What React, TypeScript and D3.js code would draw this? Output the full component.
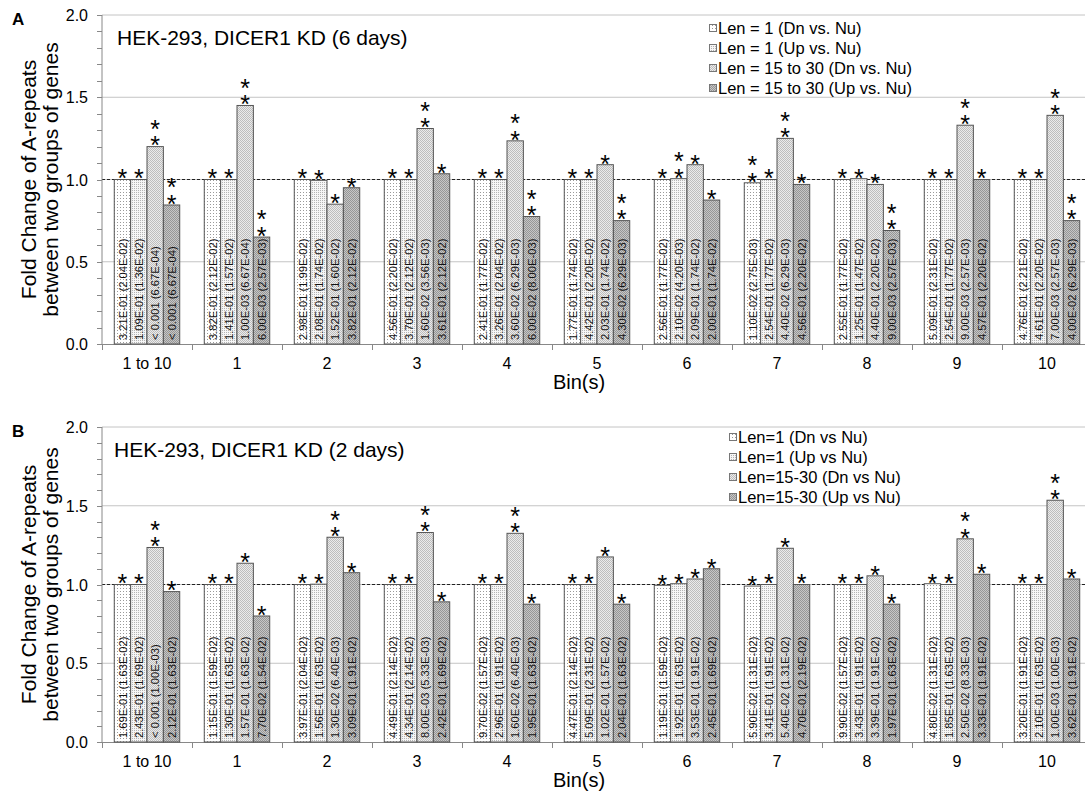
import * as d3 from 'd3';

const W = 1085;
const H = 797;
const FONT = '"Liberation Sans", Arial, sans-serif';

const bins = ['1 to 10', '1', '2', '3', '4', '5', '6', '7', '8', '9', '10'];

// ---- panel A: 6 days ----
const titleA = 'HEK-293, DICER1 KD (6 days)';
const legendA = ['Len = 1 (Dn vs. Nu)', 'Len = 1 (Up vs. Nu)', 'Len = 15 to 30 (Dn vs. Nu)', 'Len = 15 to 30 (Up vs. Nu)'];
const foldA_len1Dn = [1.0, 1.0, 1.0, 1.0, 1.0, 1.0, 1.0, 0.98, 1.0, 1.0, 1.0];
const foldA_len1Up = [1.0, 1.0, 0.995, 1.0, 1.0, 1.0, 1.005, 1.0, 1.005, 1.0, 1.0];
const foldA_len15Dn = [1.2, 1.45, 0.85, 1.31, 1.235, 1.09, 1.09, 1.25, 0.97, 1.33, 1.39];
const foldA_len15Up = [0.845, 0.65, 0.95, 1.035, 0.775, 0.75, 0.875, 0.97, 0.69, 1.0, 0.75];
const starsA_len1Dn = [1, 1, 1, 1, 1, 1, 1, 2, 1, 1, 1];
const starsA_len1Up = [1, 1, 1, 1, 1, 1, 2, 1, 1, 1, 1];
const starsA_len15Dn = [2, 2, 1, 2, 2, 1, 1, 2, 1, 2, 2];
const starsA_len15Up = [2, 2, 1, 1, 2, 2, 1, 1, 2, 1, 2];
const pA_len1Dn = ['3.21E-01 (2.04E-02)', '3.82E-01 (2.12E-02)', '2.98E-01 (1.99E-02)', '4.56E-01 (2.20E-02)', '2.41E-01 (1.77E-02)', '1.77E-01 (1.74E-02)', '2.56E-01 (1.77E-02)', '1.10E-02 (2.75E-03)', '2.55E-01 (1.77E-02)', '5.09E-01 (2.31E-02)', '4.76E-01 (2.21E-02)'];
const pA_len1Up = ['1.09E-01 (1.36E-02)', '1.41E-01 (1.57E-02)', '2.08E-01 (1.74E-02)', '3.70E-01 (2.12E-02)', '3.26E-01 (2.04E-02)', '4.42E-01 (2.20E-02)', '2.10E-02 (4.20E-03)', '2.54E-01 (1.77E-02)', '1.25E-01 (1.47E-02)', '2.54E-01 (1.77E-02)', '4.61E-01 (2.20E-02)'];
const pA_len15Dn = ['< 0.001 (6.67E-04)', '1.00E-03 (6.67E-04)', '1.52E-01 (1.60E-02)', '1.60E-02 (3.56E-03)', '3.60E-02 (6.29E-03)', '2.03E-01 (1.74E-02)', '2.09E-01 (1.74E-02)', '4.40E-02 (6.29E-03)', '4.40E-01 (2.20E-02)', '9.00E-03 (2.57E-03)', '7.00E-03 (2.57E-03)'];
const pA_len15Up = ['< 0.001 (6.67E-04)', '6.00E-03 (2.57E-03)', '3.82E-01 (2.12E-02)', '3.61E-01 (2.12E-02)', '6.00E-02 (8.00E-03)', '4.30E-02 (6.29E-03)', '2.00E-01 (1.74E-02)', '4.56E-01 (2.20E-02)', '9.00E-03 (2.57E-03)', '4.57E-01 (2.20E-02)', '4.00E-02 (6.29E-03)'];

// ---- panel B: 2 days ----
const titleB = 'HEK-293, DICER1 KD (2 days)';
const legendB = ['Len=1 (Dn vs Nu)', 'Len=1 (Up vs Nu)', 'Len=15-30 (Dn vs Nu)', 'Len=15-30 (Up vs Nu)'];
const foldB_len1Dn = [1.0, 1.0, 1.0, 1.0, 1.0, 1.0, 0.995, 0.99, 1.0, 1.005, 1.0];
const foldB_len1Up = [1.0, 1.0, 1.002, 1.0, 1.0, 1.0, 1.005, 1.0, 1.0, 1.0, 1.0];
const foldB_len15Dn = [1.235, 1.135, 1.3, 1.33, 1.325, 1.175, 1.035, 1.23, 1.055, 1.29, 1.535];
const foldB_len15Up = [0.955, 0.8, 1.075, 0.89, 0.875, 0.875, 1.1, 1.0, 0.875, 1.065, 1.035];
const starsB_len1Dn = [1, 1, 1, 1, 1, 1, 1, 1, 1, 1, 1];
const starsB_len1Up = [1, 1, 1, 1, 1, 1, 1, 1, 1, 1, 1];
const starsB_len15Dn = [2, 1, 2, 2, 2, 1, 1, 1, 1, 2, 2];
const starsB_len15Up = [1, 1, 1, 1, 1, 1, 1, 1, 1, 1, 1];
const pB_len1Dn = ['1.69E-01 (1.63E-02)', '1.15E-01 (1.59E-02)', '3.97E-01 (2.04E-02)', '4.49E-01 (2.14E-02)', '9.70E-02 (1.57E-02)', '4.47E-01 (2.14E-02)', '1.19E-01 (1.59E-02)', '5.90E-02 (1.31E-02)', '9.90E-02 (1.57E-02)', '4.80E-02 (1.31E-02)', '3.20E-01 (1.91E-02)'];
const pB_len1Up = ['2.43E-01 (1.69E-02)', '1.30E-01 (1.63E-02)', '1.56E-01 (1.63E-02)', '4.34E-01 (2.14E-02)', '2.96E-01 (1.91E-02)', '5.09E-01 (2.31E-02)', '1.92E-01 (1.63E-02)', '3.41E-01 (1.91E-02)', '3.43E-01 (1.91E-02)', '1.85E-01 (1.63E-02)', '2.10E-01 (1.63E-02)'];
const pB_len15Dn = ['< 0.001 (1.00E-03)', '1.57E-01 (1.63E-02)', '1.30E-02 (6.40E-03)', '8.00E-03 (5.33E-03)', '1.60E-02 (6.40E-03)', '1.02E-01 (1.57E-02)', '3.53E-01 (1.91E-02)', '5.40E-02 (1.31E-02)', '3.39E-01 (1.91E-02)', '2.50E-02 (8.33E-03)', '1.00E-03 (1.00E-03)'];
const pB_len15Up = ['2.12E-01 (1.63E-02)', '7.70E-02 (1.54E-02)', '3.09E-01 (1.91E-02)', '2.42E-01 (1.69E-02)', '1.95E-01 (1.63E-02)', '2.04E-01 (1.63E-02)', '2.45E-01 (1.69E-02)', '4.70E-01 (2.19E-02)', '1.97E-01 (1.63E-02)', '3.33E-01 (1.91E-02)', '3.62E-01 (1.91E-02)'];

const yTicks = [0, 0.5, 1, 1.5, 2];
const patternIds = ['pat1', 'pat2', 'pat3', 'pat4'];

// star glyph metrics (Liberation Sans): advance 0.389em, ink centre ~0.573em above baseline
const STAR_FS = 25;
const STAR_ADV = 0.389 * STAR_FS;
const STAR_GAP = 16.5;

interface PanelProps {
  letter: string;
  title: string;
  legend: string[];
  folds: number[][];
  stars: number[][];
  labels: string[][];
  top: number;
  bottom: number;
  titleX: number;
  legendX: number;
  legendY: number;
}

const Panel = ({ letter, title, legend, folds, stars, labels, top, bottom, titleX, legendX, legendY }: PanelProps) => {
  const x0 = 102;
  const x = d3.scaleBand().domain(bins).range([x0, x0 + 90 * bins.length]);
  const xi = d3
    .scaleBand<number>()
    .domain([0, 1, 2, 3])
    .range([0, x.bandwidth()])
    .paddingInner(0)
    .paddingOuter(0.75);
  const y = d3.scaleLinear().domain([0, 2]).range([bottom, top]);
  const minor = d3.range(0, 21).map((d) => d / 10);
  const midY = (top + bottom) / 2;

  return (
    <g>
      <text x={12} y={top + 10} fontSize={17} fontWeight="bold">
        {letter}
      </text>

      {/* y axis title */}
      <g transform={`translate(36,${midY}) rotate(-90)`} fontSize={21} textAnchor="middle">
        <text x={0} y={0}>Fold Change of A-repeats</text>
        <text x={0} y={22}>between two groups of genes</text>
      </g>

      {/* gridlines */}
      {yTicks.slice(1).map((t) => (
        <line key={t} x1={x0} x2={W} y1={y(t)} y2={y(t)} stroke="#c4c4c4" strokeWidth={1} />
      ))}
      <line x1={x0} x2={W} y1={y(1)} y2={y(1)} stroke="#222" strokeWidth={1} strokeDasharray="3,2" />

      {/* y axis */}
      <line x1={x0} x2={x0} y1={top} y2={bottom} stroke="#888" />
      {minor.map((t) => (
        <line key={t} x1={x0 - 5} x2={x0} y1={Math.round(y(t)) + 0.5} y2={Math.round(y(t)) + 0.5} stroke="#888" />
      ))}
      {yTicks.map((t) => (
        <text key={t} x={88} y={y(t) + 6} fontSize={16} textAnchor="end">
          {d3.format('.1f')(t)}
        </text>
      ))}

      {/* x axis */}
      <line x1={x0} x2={W} y1={bottom + 0.5} y2={bottom + 0.5} stroke="#888" />
      {d3.range(bins.length + 1).map((k) => (
        <line key={k} x1={x0 + 90 * k + 0.5} x2={x0 + 90 * k + 0.5} y1={bottom} y2={bottom + 6} stroke="#888" />
      ))}
      {bins.map((b) => (
        <text key={b} x={x(b)! + x.bandwidth() / 2} y={bottom + 25} fontSize={16} textAnchor="middle">
          {b}
        </text>
      ))}
      <text x={579} y={bottom + 45} fontSize={20} textAnchor="middle">
        Bin(s)
      </text>

      {/* bars */}
      {bins.map((b, i) => (
        <g key={b} transform={`translate(${x(b)},0)`}>
          {folds.map((series, s) => {
            const bx = xi(s)!;
            const bw = xi.bandwidth();
            const v = series[i];
            const yTop = y(v);
            const cx = bx + bw / 2;
            const n = stars[s][i];
            // stars run upward (rotated line), each glyph turned back upright
            const starCy = yTop - 6.5;
            return (
              <g key={s}>
                <rect
                  x={bx}
                  y={yTop}
                  width={bw}
                  height={bottom - yTop}
                  fill={`url(#${patternIds[s]})`}
                  stroke="#555"
                  strokeWidth={1}
                />
                <text
                  transform={`translate(${cx},${bottom - 4}) rotate(-90)`}
                  dy="0.37em"
                  fontSize={11.2}
                  fill="#111"
                >
                  {labels[s][i]}
                </text>
                <text
                  transform={`translate(${cx - STAR_ADV / 2},${starCy + 0.573 * STAR_FS}) rotate(-90)`}
                  rotate="90"
                  dx={n > 1 ? `0 ${STAR_GAP - STAR_ADV}` : undefined}
                  fontSize={STAR_FS}
                >
                  {'*'.repeat(n)}
                </text>
              </g>
            );
          })}
        </g>
      ))}

      {/* title */}
      <text x={titleX} y={top + 30} fontSize={21}>
        {title}
      </text>

      {/* legend */}
      {legend.map((name, s) => (
        <g key={name} transform={`translate(${legendX},${legendY + s * 20})`}>
          <rect x={0.5} y={-3.5} width={7} height={7} fill={`url(#${patternIds[s]})`} stroke="#777" />
          <text x={9} y={6} fontSize={16.5}>
            {name}
          </text>
        </g>
      ))}
    </g>
  );
};

export default function App() {
  return (
    <svg
      width={W}
      height={H}
      style={{ position: 'absolute', left: 0, top: 0, background: '#fff' }}
      fontFamily={FONT}
    >
      <defs>
        <pattern id="pat1" width={3} height={3} patternUnits="userSpaceOnUse">
          <rect width={3} height={3} fill="#fff" />
          <rect width={1} height={1} fill="#9a9a9a" />
        </pattern>
        <pattern id="pat2" width={2} height={2} patternUnits="userSpaceOnUse">
          <rect width={2} height={2} fill="#f6f6f6" />
          <rect width={1} height={1} fill="#b4b4b4" />
        </pattern>
        <pattern id="pat3" width={2} height={2} patternUnits="userSpaceOnUse">
          <rect width={2} height={2} fill="#ebebeb" />
          <rect width={1} height={1} fill="#bdbdbd" />
          <rect x={1} y={1} width={1} height={1} fill="#bdbdbd" />
        </pattern>
        <pattern id="pat4" width={2} height={2} patternUnits="userSpaceOnUse">
          <rect width={2} height={2} fill="#c6c6c6" />
          <rect width={1} height={1} fill="#969696" />
          <rect x={1} y={1} width={1} height={1} fill="#969696" />
        </pattern>
      </defs>
      <rect width={W} height={H} fill="#fff" />
      <Panel
        letter="A"
        title={titleA}
        legend={legendA}
        folds={[foldA_len1Dn, foldA_len1Up, foldA_len15Dn, foldA_len15Up]}
        stars={[starsA_len1Dn, starsA_len1Up, starsA_len15Dn, starsA_len15Up]}
        labels={[pA_len1Dn, pA_len1Up, pA_len15Dn, pA_len15Up]}
        top={15}
        bottom={344}
        titleX={117}
        legendX={709}
        legendY={28}
      />
      <Panel
        letter="B"
        title={titleB}
        legend={legendB}
        folds={[foldB_len1Dn, foldB_len1Up, foldB_len15Dn, foldB_len15Up]}
        stars={[starsB_len1Dn, starsB_len1Up, starsB_len15Dn, starsB_len15Up]}
        labels={[pB_len1Dn, pB_len1Up, pB_len15Dn, pB_len15Up]}
        top={427}
        bottom={742}
        titleX={114}
        legendX={729}
        legendY={437}
      />
    </svg>
  );
}
